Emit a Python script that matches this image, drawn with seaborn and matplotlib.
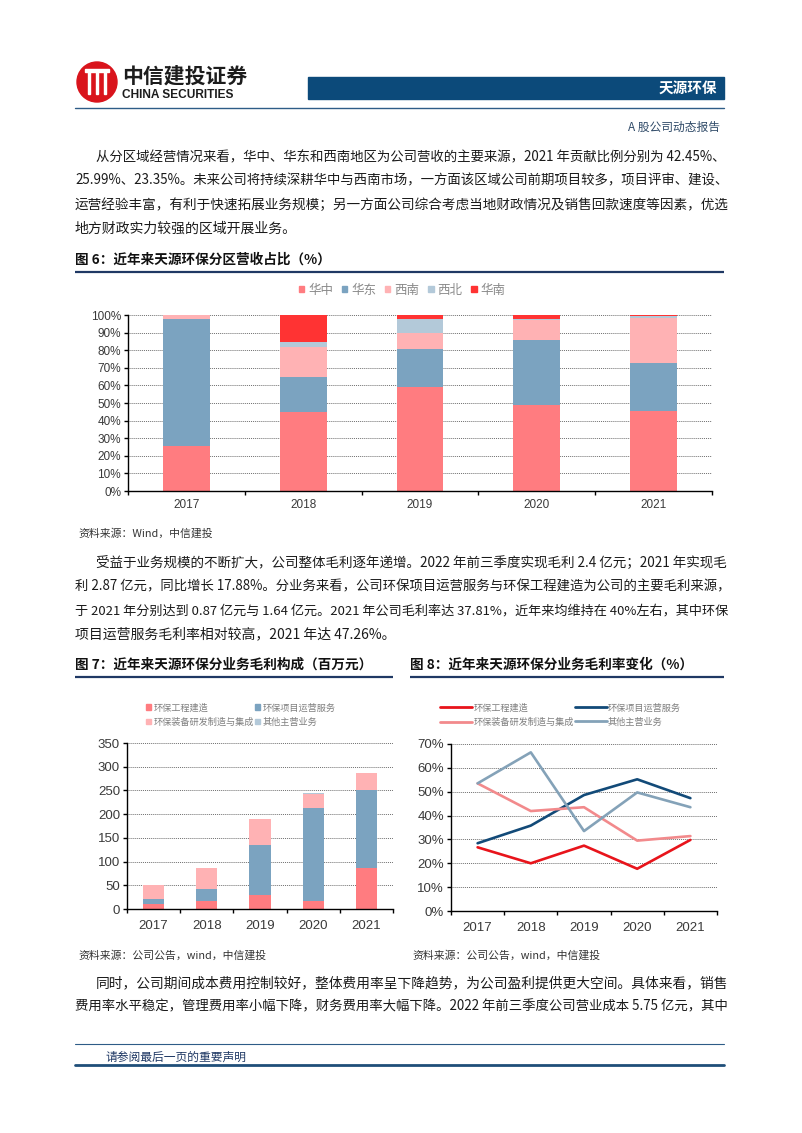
import numpy as np
import matplotlib
matplotlib.use("Agg")
import matplotlib.pyplot as plt
from matplotlib.patches import Rectangle, Circle, Patch
from matplotlib.lines import Line2D
import seaborn as sns

sns.set_theme(style="white")
plt.rcParams['font.family'] = ['Noto Sans CJK SC', 'DejaVu Sans']
plt.rcParams['axes.unicode_minus'] = False

W, H = 802, 1133
NUM_FONT = ['Liberation Sans', 'DejaVu Sans']

years = ['2017', '2018', '2019', '2020', '2021']

# 图6 分区营收占比 (%)
regions = ['华中', '华东', '西南', '西北', '华南']
share_huazhong = [25.5, 45.0, 59.0, 49.0, 45.5]
share_huadong = [72.0, 19.5, 21.5, 37.0, 27.5]
share_xinan = [2.5, 17.5, 9.0, 11.0, 25.3]
share_xibei = [0.0, 2.5, 8.0, 0.5, 1.2]
share_huanan = [0.0, 15.5, 2.5, 2.5, 0.5]
region_colors = ['#FF7C80', '#7BA3C0', '#FFB2B4', '#B3C9D9', '#FF3333']

# 图7 分业务毛利构成 (百万元)
segments = ['环保工程建造', '环保项目运营服务', '环保装备研发制造与集成', '其他主营业务']
gp_gongcheng = [10, 17, 29, 16, 87]
gp_yunying = [11, 26, 106, 198, 164]
gp_zhuangbei = [30, 43, 54, 29, 36]
gp_qita = [0.5, 0.5, 1, 1, 0.5]
seg_colors = ['#FF7C80', '#7BA3C0', '#FFB2B4', '#B3C9D9']

# 图8 分业务毛利率 (%)
gm_gongcheng = [26.7, 20.0, 27.4, 17.7, 29.8]
gm_yunying = [28.4, 35.8, 48.6, 55.2, 47.3]
gm_zhuangbei = [53.5, 41.9, 43.5, 29.5, 31.4]
gm_qita = [53.5, 66.5, 33.5, 49.7, 43.5]
line_colors = ['#E8141B', '#124A78', '#F28A8C', '#84A2B8']

para1 = [
    "从分区域经营情况来看，华中、华东和西南地区为公司营收的主要来源，2021 年贡献比例分别为 42.45%、",
    "25.99%、23.35%。未来公司将持续深耕华中与西南市场，一方面该区域公司前期项目较多，项目评审、建设、",
    "运营经验丰富，有利于快速拓展业务规模；另一方面公司综合考虑当地财政情况及销售回款速度等因素，优选",
    "地方财政实力较强的区域开展业务。",
]
para2 = [
    "受益于业务规模的不断扩大，公司整体毛利逐年递增。2022 年前三季度实现毛利 2.4 亿元；2021 年实现毛",
    "利 2.87 亿元，同比增长 17.88%。分业务来看，公司环保项目运营服务与环保工程建造为公司的主要毛利来源，",
    "于 2021 年分别达到 0.87 亿元与 1.64 亿元。2021 年公司毛利率达 37.81%，近年来均维持在 40%左右，其中环保",
    "项目运营服务毛利率相对较高，2021 年达 47.26%。",
]
para3 = [
    "同时，公司期间成本费用控制较好，整体费用率呈下降趋势，为公司盈利提供更大空间。具体来看，销售",
    "费用率水平稳定，管理费用率小幅下降，财务费用率大幅下降。2022 年前三季度公司营业成本 5.75 亿元，其中",
]

fig = plt.figure(figsize=(W / 100, H / 100), dpi=100)
bg = fig.add_axes([0, 0, 1, 1])
bg.set_xlim(0, W)
bg.set_ylim(H, 0)
bg.axis('off')
renderer = fig.canvas.get_renderer()


def box(left, top, right, bottom):
    return [left / W, 1 - bottom / H, (right - left) / W, (bottom - top) / H]


def body_line(y, s, x0=75, x1=728, size=10, justify=True):
    t = bg.text(x0, y, s, fontsize=size, va='center', ha='left', color='#1a1a1a')
    if justify:
        # shrink/grow the line a little so both edges line up like the source
        w = t.get_window_extent(renderer).width
        t.set_fontsize(size * min(max((x1 - x0) / w, 0.8), 1.2))
    return t


def paragraph(lines, y0, step=23.8, ends=True):
    for i, s in enumerate(lines):
        last = ends and i == len(lines) - 1
        body_line(y0 + i * step, s, x0=96 if i == 0 else 75, justify=not last)


def fig_title(x, y, x1, s):
    bg.text(x, y, s, fontsize=9.8, fontweight='bold', va='center', ha='left', color='#111111')
    bg.plot([x, x1], [y + 12, y + 12], color='#1f3864', lw=1.6, solid_capstyle='butt')


def style_axes(ax, ymax, step, fmt, fs, xpad):
    ticks = np.arange(0, ymax + step / 2, step)
    ax.set_xlim(-0.5, len(years) - 0.5)
    ax.set_ylim(0, ymax)
    ax.set_yticks(ticks)
    ax.set_yticklabels([fmt.format(v) for v in ticks])
    for v in ticks[1:]:
        ax.axhline(v, color='#6f6f6f', lw=0.7, ls=(0, (1, 1)), zorder=0)
    ax.set_xticks(range(len(years)))
    ax.set_xticklabels(years)
    ax.set_xticks(np.arange(-0.5, len(years), 1), minor=True)
    for side in ['top', 'right']:
        ax.spines[side].set_visible(False)
    for side in ['left', 'bottom']:
        ax.spines[side].set_color('black')
        ax.spines[side].set_linewidth(1.0)
    ax.tick_params(axis='y', length=3, width=1, direction='out', color='black',
                   labelsize=fs, labelcolor='#3a3a3a', pad=2, left=True)
    ax.tick_params(axis='x', which='major', length=0, labelsize=fs, labelcolor='#3a3a3a', pad=xpad)
    ax.tick_params(axis='x', which='minor', length=3, width=1, direction='out', color='black', bottom=True)
    for lab in ax.get_xticklabels() + ax.get_yticklabels():
        lab.set_family(NUM_FONT)
    ax.set_xlabel('')
    ax.set_ylabel('')
    ax.patch.set_alpha(0)


def stacked(ax, series, colors, width=0.4):
    cum = np.cumsum(np.array(series, dtype=float), axis=0)
    for i in range(len(series) - 1, -1, -1):
        sns.barplot(x=years, y=cum[i], color=colors[i], width=width, saturation=1,
                    linewidth=0, errorbar=None, ax=ax, zorder=2)


# ---- page header ----
bg.add_patch(Circle((97, 82), 20, color='#D9141C'))
for xb in [89, 97, 105]:
    bg.add_patch(Rectangle((xb - 1.4, 70), 2.8, 24, color='white'))
bg.add_patch(Rectangle((85, 69), 24, 2.6, color='white'))
bg.text(122, 76, '中信建投证券', fontsize=15, fontweight='bold', va='center', color='#1c1c1c')
bg.text(122, 95, 'CHINA SECURITIES', fontsize=8.6, fontweight='bold', va='center',
        family=NUM_FONT, color='#1c1c1c')
bg.add_patch(Rectangle((308, 77), 416, 22, color='#0c4a7a'))
bg.text(717, 88, '天源环保', fontsize=10.5, fontweight='bold', va='center', ha='right', color='white')
bg.plot([75, 724], [107.5, 107.5], color='#2e5c87', lw=1.0)
bg.text(720, 127, 'A 股公司动态报告', fontsize=8.5, va='center', ha='right', color='#2f4a68')

paragraph(para1, 157)

# ---- 图6 ----
fig_title(75, 260, 724, '图 6：近年来天源环保分区营收占比（%）')
ax6 = fig.add_axes(box(128, 315, 712, 491))
stacked(ax6, [share_huazhong, share_huadong, share_xinan, share_xibei, share_huanan], region_colors)
style_axes(ax6, 100, 10, '{:.0f}%', 8.5, 6)
h6 = [Patch(color=c) for c in region_colors]
fig.legend(h6, regions, loc='center', bbox_to_anchor=(402 / W, 1 - 290 / H), ncol=5, frameon=False,
           fontsize=9, handlelength=0.45, handleheight=0.45, handletextpad=0.3, columnspacing=0.7,
           labelcolor='#8a8a8a')
bg.text(78, 533, '资料来源：Wind，中信建投', fontsize=7.8, va='center', color='#333333')

paragraph(para2, 563)

# ---- 图7 ----
fig_title(75, 665, 393, '图 7：近年来天源环保分业务毛利构成（百万元）')
ax7 = fig.add_axes(box(127, 743, 393, 909))
stacked(ax7, [gp_gongcheng, gp_yunying, gp_zhuangbei, gp_qita], seg_colors)
style_axes(ax7, 350, 50, '{:.0f}', 9.5, 8)
h7 = [Patch(color=c) for c in seg_colors]
order = [0, 2, 1, 3]
fig.legend([h7[i] for i in order], [segments[i] for i in order], loc='upper left',
           bbox_to_anchor=(138 / W, 1 - 695 / H), ncol=2, frameon=False, fontsize=6.6,
           handlelength=0.55, handleheight=0.55, handletextpad=0.25, columnspacing=0.1,
           labelspacing=0.55, labelcolor='#7f7f7f')

# ---- 图8 ----
fig_title(410, 665, 724, '图 8：近年来天源环保分业务毛利率变化（%）')
ax8 = fig.add_axes(box(451, 744, 717, 911))
pos = np.arange(len(years))
for vals, c in zip([gm_gongcheng, gm_yunying, gm_zhuangbei, gm_qita], line_colors):
    sns.lineplot(x=pos, y=vals, color=c, lw=1.9, ax=ax8, zorder=3)
style_axes(ax8, 70, 10, '{:.0f}%', 9.5, 8)
h8 = [Line2D([], [], color=c, lw=2) for c in line_colors]
fig.legend([h8[i] for i in order], [segments[i] for i in order], loc='upper left',
           bbox_to_anchor=(432 / W, 1 - 695 / H), ncol=2, frameon=False, fontsize=6.6,
           handlelength=3.5, handletextpad=0.1, columnspacing=0.1,
           labelspacing=0.55, labelcolor='#7f7f7f')

bg.text(78, 955, '资料来源：公司公告，wind，中信建投', fontsize=7.8, va='center', color='#333333')
bg.text(412, 955, '资料来源：公司公告，wind，中信建投', fontsize=7.8, va='center', color='#333333')

# this paragraph runs on to the next page, so every line is justified
paragraph(para3, 983, ends=False)

# ---- footer ----
bg.plot([75, 724], [1044, 1044], color='#2e5c87', lw=0.8)
bg.text(105, 1057, '请参阅最后一页的重要声明', fontsize=8.5, va='center', color='#1f3864')
bg.plot([75, 724], [1065, 1065], color='#1f4e79', lw=2.0)

fig.savefig('out.png', dpi=100)
